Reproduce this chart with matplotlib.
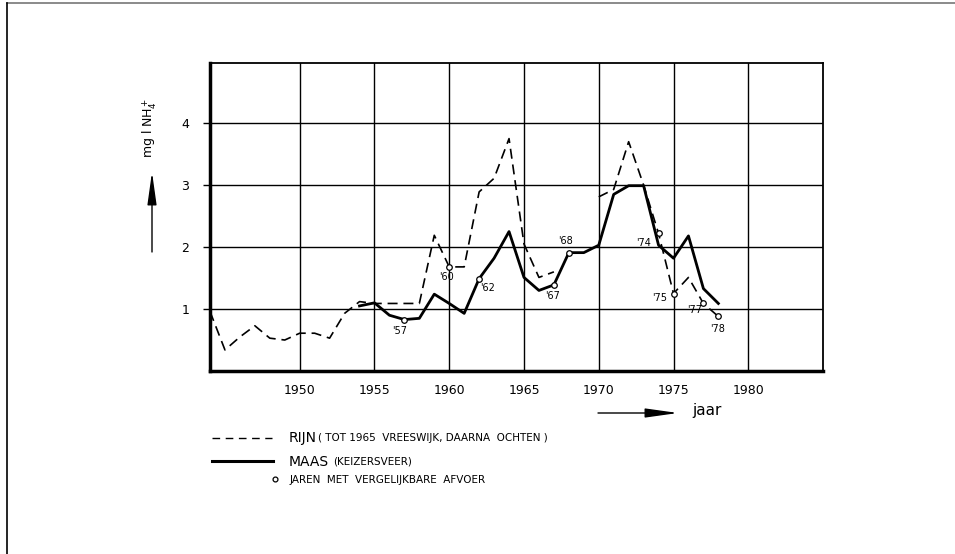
import matplotlib.pyplot as plt
import numpy as np
from matplotlib.lines import Line2D
from matplotlib.patches import FancyArrowPatch

# Rijn (dashed), 1944-1978, gap 1968-1969
rijn_years = list(range(1944, 1979))
rijn_vals = [0.96, 0.34, 0.55, 0.73, 0.53, 0.50, 0.61, 0.61, 0.53, 0.93,
             1.12, 1.09, 1.09, 1.09, 1.09, 2.19, 1.68, 1.68, 2.89, 3.11,
             3.75, 2.05, 1.51, 1.60, np.nan, np.nan, 2.81, 2.93, 3.70, 3.00,
             2.22, 1.25, 1.51, 1.09, 0.88]

# Maas (solid), 1954-1978
maas_years = list(range(1954, 1979))
maas_vals = [1.05, 1.10, 0.90, 0.83, 0.85, 1.24, 1.09, 0.93, 1.49, 1.82,
             2.25, 1.51, 1.30, 1.39, 1.91, 1.91, 2.03, 2.85, 2.99, 2.99,
             2.03, 1.82, 2.18, 1.33, 1.09]

# years with comparable discharge (marked with small circles)
maas_marked = [1957, 1962, 1967, 1968]
maas_marked_labels = ["'57", "'62", "'67", "'68"]
rijn_marked = [1960, 1974, 1975, 1977, 1978]
rijn_marked_labels = ["'60", "'74", "'75", "'77", "'78"]

x_ticks = [1950, 1955, 1960, 1965, 1970, 1975, 1980]
y_ticks = [1, 2, 3, 4]

# label offsets in pixels
label_offsets = {"'57": (-5, -11), "'62": (8, -9), "'67": (-1, -11), "'68": (-3, 12),
                 "'60": (-3, -10), "'74": (-15, -10), "'75": (-14, -4),
                 "'77": (-9, -7), "'78": (-1, -13)}

fig = plt.figure(figsize=(9.55, 5.54), dpi=100)
ax = fig.add_axes([0.2199, 0.3303, 0.6419, 0.556])

ax.plot(rijn_years, rijn_vals, color='black', lw=1.2, linestyle=(0, (6, 3.5)))
ax.plot(maas_years, maas_vals, color='black', lw=2.0)

# marked points
for years, ys_all, xs_all, labels in [(maas_marked, maas_vals, maas_years, maas_marked_labels),
                                      (rijn_marked, rijn_vals, rijn_years, rijn_marked_labels)]:
    for yr, lab in zip(years, labels):
        v = ys_all[xs_all.index(yr)]
        ax.plot(yr, v, marker='o', ms=4, mfc='white', mec='black', mew=0.9, zorder=5)
        ax.annotate(lab, (yr, v), xytext=label_offsets[lab], textcoords='offset pixels',
                    ha='center', va='center', fontsize=7)

ax.set_xlim(1944, 1985)
ax.set_ylim(0, 4.97)
ax.set_xticks(x_ticks)
ax.set_yticks(y_ticks)
ax.tick_params(axis='x', length=0, pad=9, labelsize=9)
ax.tick_params(axis='y', length=5, width=1, direction='out', pad=10, labelsize=9)
ax.grid(color='black', linewidth=1.0)
ax.set_axisbelow(True)
for side in ['left', 'bottom']:
    ax.spines[side].set_linewidth(2.5)
for side in ['top', 'right']:
    ax.spines[side].set_linewidth(1.3)


def fx(px):
    return px / 955


def fy(py):
    return 1 - py / 554


arrow_style = '-|>,head_length=1.0,head_width=0.14'

# y label with arrow
fig.text(fx(150), fy(128), 'mg l NH$_4^+$', rotation=90, ha='center', va='center', fontsize=9)
fig.add_artist(FancyArrowPatch((fx(152), fy(252)), (fx(152), fy(172)),
                               transform=fig.transFigure, arrowstyle=arrow_style,
                               shrinkA=0, shrinkB=0, mutation_scale=20, color='black', lw=1))

# x label with arrow
fig.add_artist(FancyArrowPatch((fx(598), fy(413)), (fx(678), fy(413)),
                               transform=fig.transFigure, arrowstyle=arrow_style,
                               shrinkA=0, shrinkB=0, mutation_scale=20, color='black', lw=1))
fig.text(fx(692), fy(411), 'jaar', ha='left', va='center', fontsize=11)

# legend drawn by hand
fig.add_artist(Line2D([fx(212), fx(272)], [fy(438), fy(438)], color='black', lw=1.0,
                      linestyle=(0, (5.5, 4))))
fig.text(fx(289), fy(438), 'RIJN', ha='left', va='center', fontsize=10)
fig.text(fx(318), fy(438), '( TOT 1965  VREESWIJK, DAARNA  OCHTEN )', ha='left', va='center', fontsize=7.5)
fig.add_artist(Line2D([fx(212), fx(273)], [fy(461), fy(461)], color='black', lw=2.2))
fig.text(fx(289), fy(462), 'MAAS', ha='left', va='center', fontsize=10)
fig.text(fx(333), fy(462), '(KEIZERSVEER)', ha='left', va='center', fontsize=7.5)
fig.add_artist(Line2D([fx(275)], [fy(479)], marker='o', ms=3.5, mfc='white', mec='black', mew=0.9))
fig.text(fx(290), fy(480), 'JAREN  MET  VERGELIJKBARE  AFVOER', ha='left', va='center', fontsize=7.5)

# page frame (top and left only)
fig.add_artist(Line2D([fx(7), 1], [fy(3), fy(3)], color='#777777', lw=1.2))
fig.add_artist(Line2D([fx(7), fx(7)], [fy(3), 0], color='black', lw=1.2))

fig.savefig('out.png', dpi=100)
